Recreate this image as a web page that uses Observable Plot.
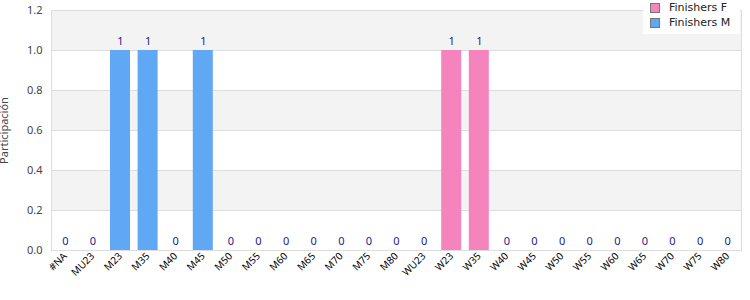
<!DOCTYPE html>
<html><head><meta charset="utf-8">
<script src="https://cdn.jsdelivr.net/npm/d3@7"></script>
<script src="https://cdn.jsdelivr.net/npm/@observablehq/plot@0.6"></script>
<style>
body{margin:0;background:#fff;}
#wrap{position:relative;width:750px;height:300px;}
#legend{position:absolute;left:643px;top:0;width:97px;height:34px;background:#fff;font-size:11px;color:#222;font-family:"DejaVu Sans",sans-serif;}
#legend div{display:flex;align-items:center;height:15px;margin-left:7px;}
#legend span.sw{display:inline-block;width:8px;height:8px;border:1px solid #777;margin-right:9px;}
</style></head>
<body><div id="wrap"><div id="chart"></div><div id="legend"></div></div>
<script>
const categories = ["#NA","MU23","M23","M35","M40","M45","M50","M55","M60","M65","M70","M75","M80","WU23","W23","W35","W40","W45","W50","W55","W60","W65","W70","W75","W80"];
const finishersF = [0,0,0,0,0,0,0,0,0,0,0,0,0,0,1,1,0,0,0,0,0,0,0,0,0];
const finishersM = [0,0,1,1,0,1,0,0,0,0,0,0,0,0,0,0,0,0,0,0,0,0,0,0,0];
const seriesNames = ["Finishers F","Finishers M"];
const seriesColors = ["#f584bc","#60a8f4"];
const yTicks = [0,0.2,0.4,0.6,0.8,1.0,1.2];

const rows = [];
categories.forEach((c,i)=>{
  rows.push({cat:c, series:seriesNames[0], v:finishersF[i]});
  rows.push({cat:c, series:seriesNames[1], v:finishersM[i]});
});
const totals = categories.map((c,i)=>({cat:c, v:finishersF[i]+finishersM[i]}));
const bands = [];
for(let i=0;i<yTicks.length-1;i++) if(i%2===1) bands.push({y1:yTicks[i], y2:yTicks[i+1]});

const chart = Plot.plot({
  width:750, height:300,
  marginLeft:51, marginRight:9, marginTop:10, marginBottom:50,
  x:{domain:categories, paddingInner:0.275, paddingOuter:0.1375, round:false, tickRotate:-45, tickSize:0, tickPadding:4, label:null},
  y:{domain:[0,1.2]},
  color:{domain:seriesNames, range:seriesColors},
  marks:[
    Plot.rectY(bands,{y1:"y1", y2:"y2", fill:"#f3f3f3"}),
    Plot.gridY(yTicks,{stroke:"#dddddd", strokeOpacity:1}),
    Plot.frame({stroke:"#dddddd"}),
    Plot.barY(rows,{x:"cat", y:"v", fill:"series"}),
    Plot.text(totals,{x:"cat", y:"v", text:d=>String(d.v), dy:-9, fill:"#1a1a8c", fontSize:11}),
    Plot.axisY(yTicks,{tickFormat:d3.format(".1f"), tickSize:0, tickPadding:9, label:"Participación", labelArrow:"none", labelAnchor:"center", labelOffset:51, fill:"#444", fontSize:11})
  ]
});
document.getElementById("chart").appendChild(chart);
const lg = document.getElementById("legend");
seriesNames.forEach((n,i)=>{
  const d=document.createElement("div");
  d.innerHTML=`<span class="sw" style="background:${seriesColors[i]}"></span>${n}`;
  lg.appendChild(d);
});
</script></body></html>
